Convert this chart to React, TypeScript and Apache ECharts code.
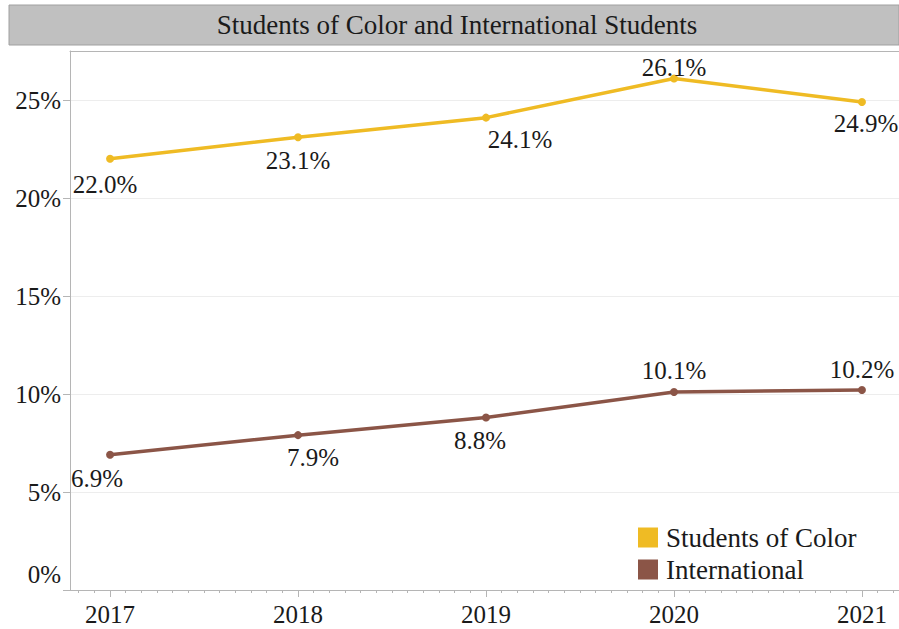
import React, { useEffect, useRef } from "react";
import * as echarts from "echarts";

const years = [2017, 2018, 2019, 2020, 2021];
const studentsOfColor = [22.0, 23.1, 24.1, 26.1, 24.9];
const international = [6.9, 7.9, 8.8, 10.1, 10.2];
const yTicks = [0, 5, 10, 15, 20, 25];
const seriesNames = ["Students of Color", "International"];
const titleText = "Students of Color and International Students";

const FONT = "Liberation Serif";
const TXT = "#1a1a1a";
const YELLOW = "#EFBB24";
const BROWN = "#8B5547";
const LABEL_SIZE = 25;

const socLabelPos: any[] = [
  { position: "bottom", distance: 9, offset: [-5, 0] },
  { position: "bottom", distance: 7, offset: [0, 0] },
  { position: "bottom", distance: 5, offset: [34, 0] },
  { position: "top", distance: -6, offset: [0, 0] },
  { position: "bottom", distance: 5, offset: [4, 0] },
];
const intlLabelPos: any[] = [
  { position: "bottom", distance: 7, offset: [-13, 0] },
  { position: "bottom", distance: 6, offset: [15, 0] },
  { position: "bottom", distance: 6, offset: [-6, 0] },
  { position: "top", distance: 5, offset: [0, 0] },
  { position: "top", distance: 4, offset: [0, 0] },
];

export default function App() {
  const ref = useRef<HTMLDivElement>(null);
  useEffect(() => {
    if (!ref.current) return;
    const chart = echarts.init(ref.current, undefined, { renderer: "svg" });
    const xMin = 2016.787;
    const xMax = 2021.197;
    const monthly: number[] = [];
    for (let y = 2016; y <= 2022; y++) {
      for (let m = 1; m < 12; m++) {
        const v = y + m / 12;
        if (v > xMin && v < xMax) monthly.push(v);
      }
    }
    const mkData = (vals: number[], pos: any[]) =>
      vals.map((v, i) => ({
        value: [years[i], v],
        label: { ...pos[i] },
      }));
    const labelBase = {
      show: true,
      fontFamily: FONT,
      fontSize: LABEL_SIZE,
      color: TXT,
      formatter: (p: any) => p.value[1].toFixed(1) + "%",
    };
    chart.setOption({
      animation: false,
      backgroundColor: "#ffffff",
      textStyle: { fontFamily: FONT },
      grid: { left: 70, right: 0, top: 51, bottom: 39, containLabel: false },
      graphic: [
        {
          type: "rect",
          shape: { x: 9, y: 5, width: 890, height: 40 },
          style: { fill: "#c0c0c0", stroke: "#a0a0a0", lineWidth: 1 },
          z: 0,
        },
        {
          type: "text",
          x: 457,
          y: 25,
          style: {
            text: titleText,
            fontFamily: FONT,
            fontSize: 27,
            fill: TXT,
            textAlign: "center",
            textVerticalAlign: "middle",
          },
          z: 1,
        },
      ],
      legend: {
        orient: "vertical",
        left: 638,
        top: 524,
        padding: 0,
        itemWidth: 20,
        itemHeight: 20,
        itemGap: 5,
        icon: "rect",
        textStyle: { fontFamily: FONT, fontSize: 27, color: TXT, padding: [0, 0, 0, 3] },
        data: seriesNames,
      },
      xAxis: [
        {
          type: "value",
          min: xMin,
          max: xMax,
          position: "bottom",
          axisLine: { show: true, lineStyle: { color: "#b5b5b5", width: 1 } },
          axisTick: {
            show: true,
            length: 7,
            customValues: years,
            lineStyle: { color: "#b5b5b5" },
          },
          axisLabel: {
            show: true,
            customValues: years,
            margin: 12,
            fontFamily: FONT,
            fontSize: LABEL_SIZE,
            color: TXT,
            formatter: (v: number) => String(Math.round(v)),
          },
          splitLine: { show: false },
        },
        {
          type: "value",
          min: xMin,
          max: xMax,
          position: "bottom",
          axisLine: { show: false },
          axisTick: {
            show: true,
            length: 3,
            customValues: monthly,
            lineStyle: { color: "#b5b5b5" },
          },
          axisLabel: { show: false },
          splitLine: { show: false },
        },
        {
          type: "value",
          min: xMin,
          max: xMax,
          position: "top",
          axisLine: { show: true, lineStyle: { color: "#b5b5b5", width: 1 } },
          axisTick: { show: false },
          axisLabel: { show: false },
          splitLine: { show: false },
        },
      ],
      yAxis: {
        type: "value",
        min: 0,
        max: 27.5,
        interval: 5,
        axisLine: { show: true, lineStyle: { color: "#b5b5b5", width: 1 } },
        axisTick: {
          show: true,
          length: 7,
          customValues: yTicks,
          lineStyle: { color: "#b5b5b5" },
        },
        axisLabel: {
          customValues: yTicks,
          margin: 9,
          fontFamily: FONT,
          fontSize: LABEL_SIZE,
          color: TXT,
          lineHeight: 32,
          formatter: (v: number) => (v === 0 ? "0%\n " : v + "%"),
        },
        splitLine: { show: true, lineStyle: { color: "#ededed", width: 1 } },
      },
      series: [
        {
          name: seriesNames[0],
          type: "line",
          xAxisIndex: 0,
          data: mkData(studentsOfColor, socLabelPos),
          symbol: "circle",
          symbolSize: 8,
          lineStyle: { color: YELLOW, width: 3.5 },
          itemStyle: { color: YELLOW },
          label: labelBase,
          z: 3,
        },
        {
          name: seriesNames[1],
          type: "line",
          xAxisIndex: 0,
          data: mkData(international, intlLabelPos),
          symbol: "circle",
          symbolSize: 8,
          lineStyle: { color: BROWN, width: 3.5 },
          itemStyle: { color: BROWN },
          label: labelBase,
          z: 3,
        },
      ],
    });
    return () => chart.dispose();
  }, []);
  return (
    <div
      ref={ref}
      style={{ position: "fixed", left: 0, top: 0, width: 899, height: 629 }}
    />
  );
}
